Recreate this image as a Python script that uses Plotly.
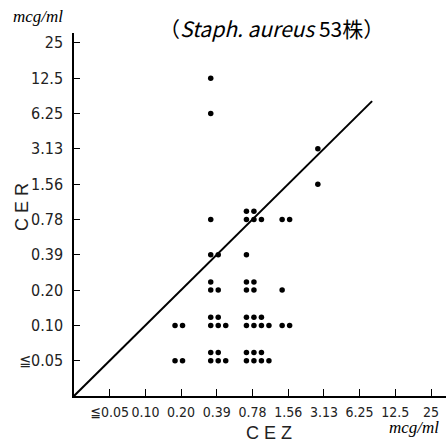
import plotly.graph_objects as go

# Category labels (ordinal scale, index 0 = lowest)
x_labels = ["≦0.05", "0.10", "0.20", "0.39", "0.78", "1.56", "3.13", "6.25", "12.5", "25"]
y_labels = ["≦0.05", "0.10", "0.20", "0.39", "0.78", "1.56", "3.13", "6.25", "12.5", "25"]

# Data: number of strains at each (CEZ, CER) MIC combination
cez = ["0.39", "0.39", "3.13", "3.13", "0.39", "0.78", "1.56", "0.39", "0.78",
       "0.39", "0.78", "1.56", "0.20", "0.39", "0.78", "1.56", "0.20", "0.39", "0.78"]
cer = ["12.5", "6.25", "3.13", "1.56", "0.78", "0.78", "0.78", "0.39", "0.39",
       "0.20", "0.20", "0.20", "0.10", "0.10", "0.10", "0.10", "≦0.05", "≦0.05", "≦0.05"]
count = [1, 1, 1, 1, 1, 5, 2, 2, 1,
         3, 4, 1, 2, 5, 7, 2, 2, 5, 7]

# expand each cluster into individual dots (bottom row = ceil(n/2), top row = rest)
xs, ys = [], []
for cx, cy, n in zip(cez, cer, count):
    xi = x_labels.index(cx)
    yi = y_labels.index(cy)
    if n <= 2:
        rows = [n]
    else:
        rows = [(n + 1) // 2, n // 2]
    for r, m in enumerate(rows):
        for k in range(m):
            xs.append(xi - 0.17 + 0.21 * k)
            ys.append(yi + 0.23 * r)

fig = go.Figure()
fig.add_trace(go.Scatter(x=[-1, 7.35], y=[-1, 7.35], mode="lines",
                         line=dict(color="black", width=2), hoverinfo="skip"))
fig.add_trace(go.Scatter(x=xs, y=ys, mode="markers",
                         marker=dict(color="black", size=5.5, line=dict(width=0))))

tickfont = dict(family="Liberation Sans Narrow, DejaVu Sans Condensed, Liberation Sans, sans-serif",
                size=16, color="#222")

fig.update_xaxes(range=[-1, 9.42], tickmode="array", tickvals=list(range(10)),
                 ticktext=x_labels, showgrid=False, zeroline=False,
                 showline=True, linecolor="black", linewidth=1.5,
                 ticks="inside", ticklen=7, tickwidth=1.3, tickcolor="black",
                 tickfont=dict(tickfont, size=14), tickangle=0, automargin=False,
                 ticklabelstandoff=2)
fig.update_yaxes(range=[-1, 9.28], tickmode="array", tickvals=list(range(10)),
                 ticktext=y_labels, showgrid=False, zeroline=False,
                 showline=True, linecolor="black", linewidth=1.5,
                 ticks="inside", ticklen=6, tickwidth=1.3, tickcolor="black",
                 tickfont=tickfont, ticklabelstandoff=6, automargin=False)

L, R, T, B = 74, 2, 33, 48
W, H = 448, 444
pw, ph = W - L - R, H - T - B


def px(x):
    return (x - L) / pw


def py(y):
    return (H - B - y) / ph


def note(text, x, y, font, **kw):
    return dict(text=text, x=px(x), y=py(y), xref="paper", yref="paper",
                xanchor="center", yanchor="middle", showarrow=False,
                font=font, **kw)


ann = [
    note("（<i>Staph. aureus</i> 53株）", 271, 28,
         dict(family="Noto Sans CJK JP, sans-serif", size=21, color="black")),
    note("C E R", 22, 207, dict(family="Liberation Sans, sans-serif", size=18, color="#222"),
         textangle=-90),
    note("C E Z", 269, 433, dict(family="Liberation Sans, sans-serif", size=18, color="#222")),
    note("<i>mcg/ml</i>", 38, 16, dict(family="Liberation Serif, serif", size=17, color="black")),
    note("<i>mcg/ml</i>", 414, 427, dict(family="Liberation Serif, serif", size=17, color="black")),
]

fig.update_layout(width=W, height=H, margin=dict(l=L, r=R, t=T, b=B, autoexpand=False),
                  plot_bgcolor="white", paper_bgcolor="white",
                  showlegend=False, annotations=ann)

fig.write_html("out.html")
